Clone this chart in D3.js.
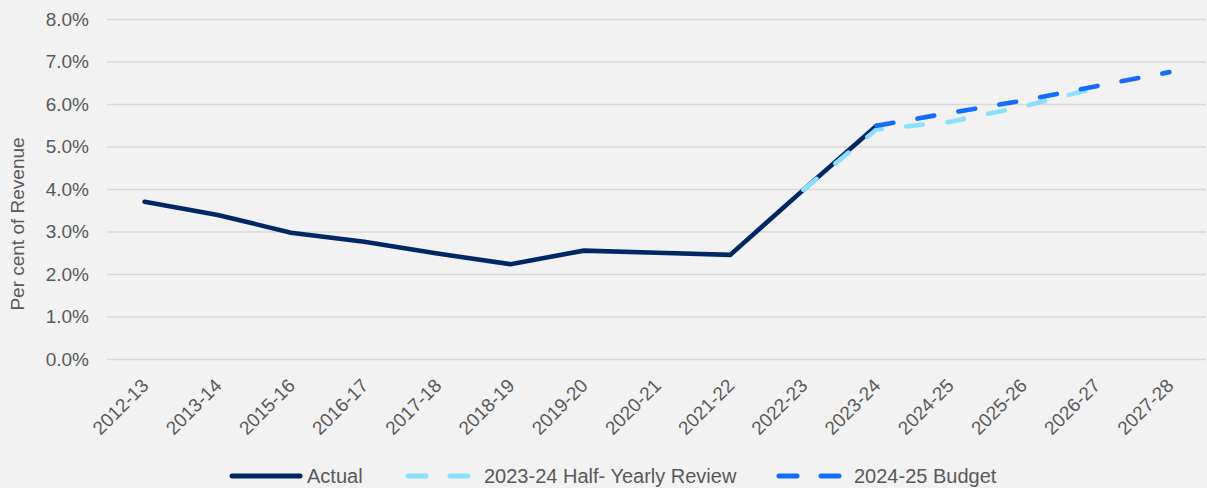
<!DOCTYPE html>
<html>
<head>
<meta charset="utf-8">
<script src="https://cdn.jsdelivr.net/npm/d3@7"></script>
<style>
  html, body { margin: 0; padding: 0; background: #f2f2f2; }
  svg { display: block; }
  text { font-family: "Liberation Sans", Arial, sans-serif; fill: #595959; }
</style>
</head>
<body>
<svg id="chart" width="1207" height="488"></svg>
<script>
// Financial years shown on the category axis
const categories = ["2012-13", "2013-14", "2015-16", "2016-17", "2017-18", "2018-19", "2019-20",
  "2020-21", "2021-22", "2022-23", "2023-24", "2024-25", "2025-26", "2026-27", "2027-28"];

// Per cent of revenue for each series (null where a series has no value)
const actual = [3.70, 3.39, 2.97, 2.76, 2.48, 2.23, 2.55, 2.50, 2.45, 3.98, 5.49, null, null, null, null];
const halfYearly = [null, null, null, null, null, null, null, null, null, 3.98, 5.40, 5.58, 5.94, 6.38, null];
const budget = [null, null, null, null, null, null, null, null, null, null, 5.49, 5.79, 6.08, 6.42, 6.75];

const yTicks = [0, 1, 2, 3, 4, 5, 6, 7, 8];

const seriesNames = ["Actual", "2023-24 Half- Yearly Review", "2024-25 Budget"];

const svg = d3.select("#chart");

const x = d3.scalePoint().domain(categories).range([108, 1206]).padding(0.5);
const y = d3.scaleLinear().domain([0, 8]).range([359, 19]);

// Y axis with horizontal gridlines
const yAxis = svg.append("g")
  .attr("transform", "translate(107,0)")
  .call(d3.axisLeft(y).tickValues(yTicks).tickSize(-1099).tickPadding(18)
    .tickFormat(d => d3.format(".1f")(d) + "%"));
yAxis.select(".domain").remove();
yAxis.selectAll(".tick line").attr("stroke", "#d9d9d9").attr("stroke-width", 1.6);
yAxis.selectAll(".tick text")
  .attr("font-size", 19).attr("fill", "#595959")
  .style("font-family", "'Liberation Sans', Arial, sans-serif");

// Category axis with rotated labels
const xAxis = svg.append("g")
  .attr("transform", "translate(0,359)")
  .call(d3.axisBottom(x).tickSize(0));
xAxis.select(".domain").remove();
xAxis.selectAll(".tick text")
  .attr("font-size", 19).attr("fill", "#595959")
  .style("font-family", "'Liberation Sans', Arial, sans-serif")
  .attr("text-anchor", "end")
  .attr("x", 0).attr("y", 0).attr("dy", "0.35em")
  .attr("transform", "translate(0,23) rotate(-45)");

// Axis title
svg.append("text")
  .attr("transform", "translate(17,224) rotate(-90)")
  .attr("text-anchor", "middle")
  .attr("dy", "0.35em")
  .attr("font-size", 19)
  .text("Per cent of Revenue");

const line = d3.line()
  .defined(d => d != null)
  .x((d, i) => x(categories[i]))
  .y(d => y(d));

const styles = [
  { data: actual, color: "#002664", dash: null },
  { data: halfYearly, color: "#8ce0ff", dash: "17,24.5" },
  { data: budget, color: "#146cfd", dash: "17,24.5" }
];

styles.forEach(s => {
  svg.append("path")
    .attr("d", line(s.data))
    .attr("fill", "none")
    .attr("stroke", s.color)
    .attr("stroke-width", 4.6)
    .attr("stroke-linecap", "round")
    .attr("stroke-linejoin", "miter")
    .attr("stroke-dasharray", s.dash);
});

// Legend
const legendItems = [
  { name: seriesNames[0], color: "#002664", dash: null, x1: 232, x2: 300, tx: 307 },
  { name: seriesNames[1], color: "#8ce0ff", dash: "18,24", x1: 408, x2: 470, tx: 484 },
  { name: seriesNames[2], color: "#146cfd", dash: "18,24", x1: 779, x2: 842, tx: 854 }
];
const legend = svg.append("g");
legendItems.forEach(it => {
  legend.append("line")
    .attr("x1", it.x1).attr("x2", it.x2)
    .attr("y1", 476).attr("y2", 476)
    .attr("stroke", it.color)
    .attr("stroke-width", 5)
    .attr("stroke-linecap", "round")
    .attr("stroke-dasharray", it.dash);
  legend.append("text")
    .attr("x", it.tx).attr("y", 476).attr("dy", "0.35em")
    .attr("font-size", 20)
    .text(it.name);
});
</script>
</body>
</html>
